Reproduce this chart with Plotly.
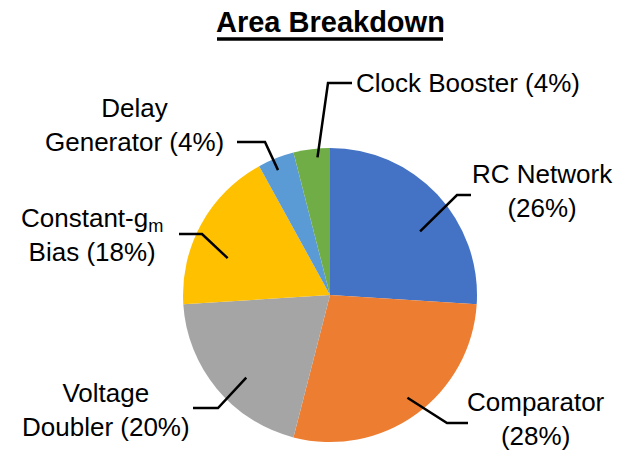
import math
import plotly.graph_objects as go

# Area share of each block (percent), clockwise from 12 o'clock
blocks = ["RC Network", "Comparator", "Voltage Doubler", "Constant-gm Bias",
          "Delay Generator", "Clock Booster"]
share = [26, 28, 20, 18, 4, 4]
label_text = ["RC Network<br>({}%)", "Comparator<br>({}%)", "Voltage<br>Doubler ({}%)",
              "Constant-g<sub>m</sub><br>Bias ({}%)", "Delay<br>Generator ({}%)",
              "Clock Booster ({}%)"]
colors = ["#4472C4", "#ED7D31", "#A5A5A5", "#FFC000", "#5B9BD5", "#70AD47"]
title = "Area Breakdown"

W, H = 621, 456
CX, CY, R = 330, 295, 147  # pie centre / radius in pixels

FONT = "Liberation Sans Narrow, Arial Narrow, Liberation Sans, Arial, sans-serif"

# label layout: (angle nudge deg, radius fraction, elbow px, end px, text px, anchor)
label_layout = [
    (8, 0.75, (457, 195), (471, 195), (542, 191), "center"),
    (-1, 0.875, (447, 423), (468, 423), (536, 419), "center"),
    (-5, 0.80, (218, 408), (193, 408), (106, 410), "center"),
    (-9, 0.74, (202, 234), (179, 234), (92, 235), "center"),
    (-1, 0.92, (265, 142), (237, 142), (134, 125), "center"),
    (2, 0.94, (328, 83), (352, 83), (354, 83), "left"),
]


def px(x, y):
    return x / W, 1 - y / H


fig = go.Figure(go.Pie(
    labels=blocks, values=share, sort=False, direction="clockwise", rotation=0,
    marker=dict(colors=colors, line=dict(width=0)),
    textinfo="none", hoverinfo="label+percent", showlegend=False,
    domain=dict(x=[(CX - R) / W, (CX + R) / W], y=[(H - CY - R) / H, (H - CY + R) / H]),
))

shapes, annotations = [], []
total = sum(share)
cum = 0
for v, txt, lay in zip(share, label_text, label_layout):
    mid = (cum + v / 2) / total * 360
    cum += v
    nudge, frac, elbow, end, tpos, anchor = lay
    a = math.radians(mid + nudge)
    ix, iy = CX + frac * R * math.sin(a), CY - frac * R * math.cos(a)
    p0, p1, p2 = px(ix, iy), px(*elbow), px(*end)
    shapes.append(dict(type="path", xref="paper", yref="paper",
                       path=f"M {p0[0]},{p0[1]} L {p1[0]},{p1[1]} L {p2[0]},{p2[1]}",
                       line=dict(color="black", width=2.5)))
    tx, ty = px(*tpos)
    annotations.append(dict(text=txt.format(v), x=tx, y=ty, xref="paper", yref="paper",
                            xanchor=anchor, yanchor="middle", align="center",
                            showarrow=False, font=dict(family=FONT, size=26, color="black")))

# bold title with a heavy underline
tx, ty = px(330, 22)
annotations.append(dict(text=title, x=tx, y=ty, xref="paper",
                        yref="paper", xanchor="center", yanchor="middle", showarrow=False,
                        font=dict(family=FONT, size=29, color="black", weight="bold")))
u0, u1 = px(217, 39), px(443, 39)
shapes.append(dict(type="line", xref="paper", yref="paper", x0=u0[0], y0=u0[1],
                   x1=u1[0], y1=u1[1], line=dict(color="black", width=3.5)))

fig.update_layout(width=W, height=H, margin=dict(l=0, r=0, t=0, b=0),
                  paper_bgcolor="white", plot_bgcolor="white",
                  shapes=shapes, annotations=annotations)
fig.write_html("out.html")
